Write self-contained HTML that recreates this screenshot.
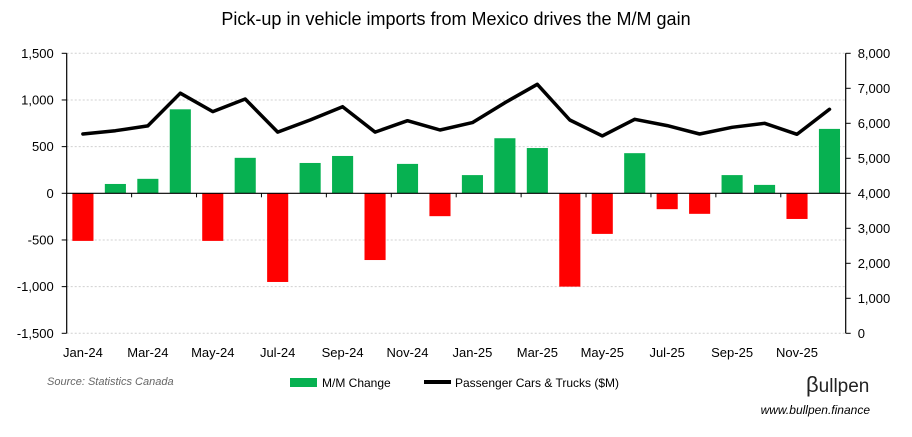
<!DOCTYPE html>
<html><head><meta charset="utf-8"><style>
body{margin:0;background:#fff;width:912px;height:432px;overflow:hidden;font-family:"Liberation Sans",sans-serif}
svg text{font-family:"Liberation Sans",sans-serif}
</style></head><body>
<svg id="chart" width="912" height="432">
<text x="456" y="25" text-anchor="middle" font-size="18" fill="#000">Pick-up in vehicle imports from Mexico drives the M/M gain</text>
<g id="grid"></g><g id="bars"></g><g id="axes"></g><g id="line"></g>
<text x="47" y="385" font-size="11" font-style="italic" fill="#666">Source: Statistics Canada</text>
<g>
<rect x="290" y="378" width="27" height="9" fill="#07b151"/>
<text x="322" y="387" font-size="12" fill="#000">M/M Change</text>
<line x1="424" y1="382" x2="451" y2="382" stroke="#000" stroke-width="4"/>
<text x="455" y="387" font-size="12" fill="#000">Passenger Cars &amp; Trucks ($M)</text>
</g>
<text x="806" y="392" font-size="19" fill="#222"><tspan font-size="22">β</tspan>ullpen</text>
<text x="870" y="414" text-anchor="end" font-size="12" font-style="italic" fill="#000">www.bullpen.finance</text>
</svg>
<script>
const categories=["Jan-24","Feb-24","Mar-24","Apr-24","May-24","Jun-24","Jul-24","Aug-24","Sep-24","Oct-24","Nov-24","Dec-24","Jan-25","Feb-25","Mar-25","Apr-25","May-25","Jun-25","Jul-25","Aug-25","Sep-25","Oct-25","Nov-25","Dec-25"];
const mmChange=[-510,100,155,900,-510,380,-950,325,400,-715,315,-245,195,590,485,-1000,-435,430,-170,-220,195,90,-275,690];
const passenger=[5695,5790,5925,6860,6335,6695,5750,6095,6475,5750,6075,5810,6020,6590,7115,6095,5640,6115,5935,5695,5885,6000,5685,6400];
const leftTicks=[-1500,-1000,-500,0,500,1000,1500];
const leftTickLabels=["-1,500","-1,000","-500","0","500","1,000","1,500"];
const rightTicks=[0,1000,2000,3000,4000,5000,6000,7000,8000];
const rightTickLabels=["0","1,000","2,000","3,000","4,000","5,000","6,000","7,000","8,000"];

const NS="http://www.w3.org/2000/svg";
const X0=66.7,X1=845.7,YT=53.3,YB=333.3;
const slot=(X1-X0)/categories.length;
function xc(i){return X0+slot*(i+0.5);}
function yL(v){return YB-(v+1500)/3000*(YB-YT);}
function yR(v){return YB-v/8000*(YB-YT);}
function mk(tag,attrs,parent){const e=document.createElementNS(NS,tag);for(const k in attrs)e.setAttribute(k,attrs[k]);parent.appendChild(e);return e;}
const grid=document.getElementById('grid'),bars=document.getElementById('bars'),axes=document.getElementById('axes'),lineG=document.getElementById('line');

leftTicks.forEach((t,i)=>{
 const y=yL(t);
 if(t!==0){const g=mk('line',{x1:X0,x2:X1,y1:y,y2:y,stroke:'#d0d0d0','stroke-dasharray':'2,2','stroke-width':1},grid);
 
 }
 const tk=mk('line',{x1:X0-5,x2:X0,y1:y,y2:y,stroke:'#000'},axes);
 
 
 const tx=mk('text',{x:X0-13,y:y+4.5,'text-anchor':'end','font-size':13,fill:'#000'},axes);
 tx.textContent=leftTickLabels[i];
 
 
});
rightTicks.forEach((t,i)=>{
 const y=yR(t);
 const tk=mk('line',{x1:X1,x2:X1+5,y1:y,y2:y,stroke:'#000'},axes);
 
 
 const tx=mk('text',{x:X1+12,y:y+4.5,'font-size':13,fill:'#000'},axes);
 tx.textContent=rightTickLabels[i];
 
 
});
const la=mk('line',{x1:X0,x2:X0,y1:YT,y2:YB,stroke:'#000','stroke-width':1.2},axes);


const ra=mk('line',{x1:X1,x2:X1,y1:YT,y2:YB,stroke:'#000','stroke-width':1.2},axes);


const za=mk('line',{x1:X0,x2:X1,y1:yL(0),y2:yL(0),stroke:'#000','stroke-width':1.2},axes);



const bw=slot*0.65;
mmChange.forEach((v,i)=>{
 const y0=yL(0),y=yL(v);
 const r=mk('rect',{x:xc(i)-bw/2,y:Math.min(y,y0),width:bw,height:Math.abs(y-y0),fill:v>=0?'#07b151':'#ff0000'},bars);
 
 
});
categories.forEach((c,i)=>{
 if(i%2===0){
  const bx=X0+slot*i;
  if(i>0){const tk=mk('line',{x1:bx,x2:bx,y1:yL(0),y2:yL(0)+4,stroke:'#000'},axes);
  
  }
  const tx=mk('text',{x:xc(i),y:357,'text-anchor':'middle','font-size':13,fill:'#000'},axes);
  tx.textContent=c;
  
  
 }
});
const pts=passenger.map((v,i)=>xc(i).toFixed(1)+','+yR(v).toFixed(1)).join(' ');
const pl=mk('polyline',{points:pts,fill:'none',stroke:'#000','stroke-width':3.5,'stroke-linejoin':'round','stroke-linecap':'round'},lineG);


</script>
</body></html>
